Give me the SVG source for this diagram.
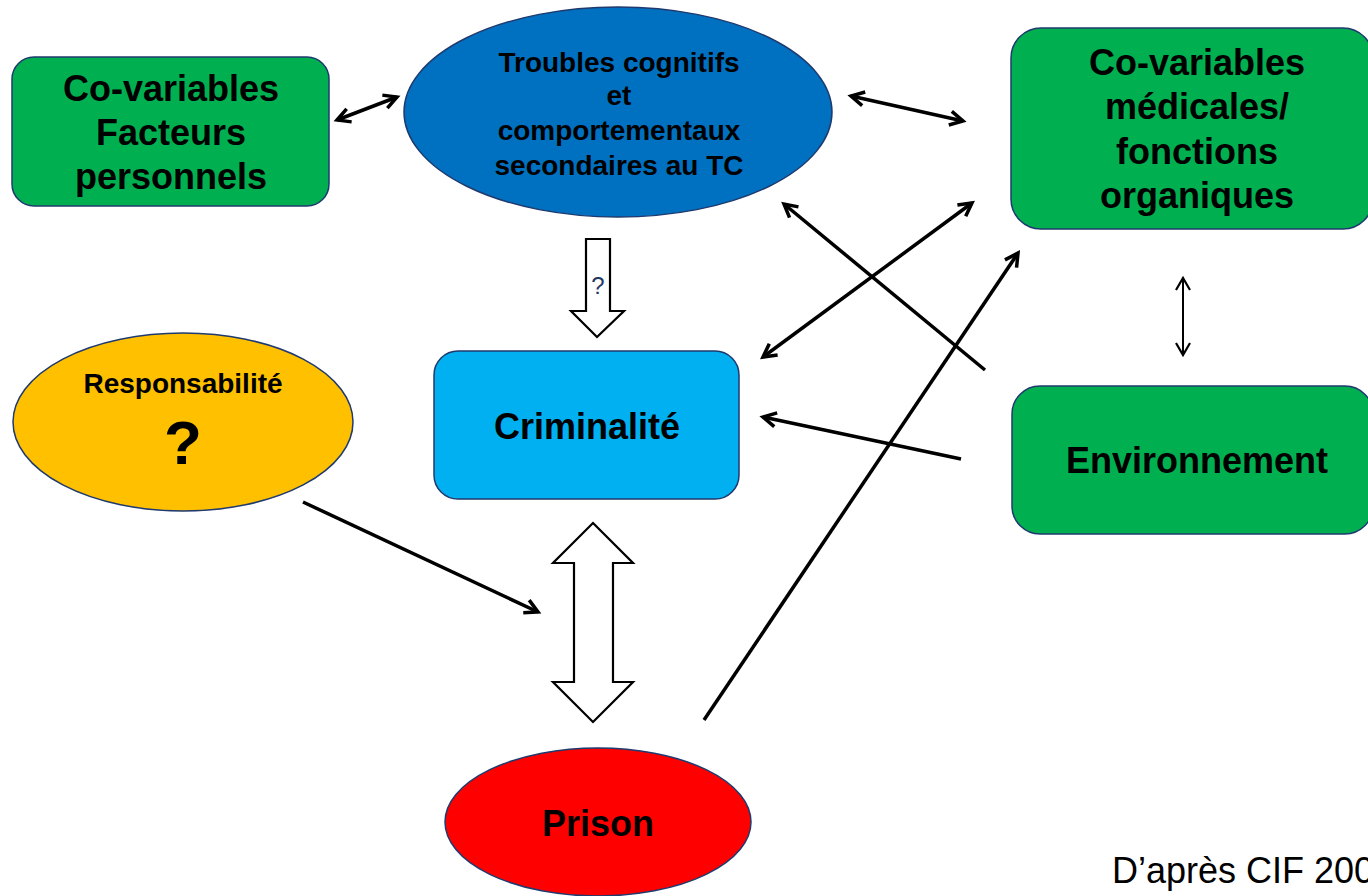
<svg xmlns="http://www.w3.org/2000/svg" width="1368" height="896" viewBox="0 0 1368 896">
<defs>
<style>
.t{font-family:"Liberation Sans",Arial,sans-serif;font-weight:bold;fill:#000;text-anchor:middle}
.shape{stroke:#1F3A6E;stroke-width:1.5}
.conn{stroke:#000;stroke-width:3.5;fill:none}
.thin{stroke:#000;stroke-width:2;fill:none}
.hollow{fill:#fff;stroke:#000;stroke-width:2.2;stroke-linejoin:miter}
</style>
<marker id="ah" viewBox="0 0 20 20" refX="16" refY="10" markerWidth="20" markerHeight="20" markerUnits="userSpaceOnUse" orient="auto-start-reverse">
<path d="M3,3 L16,10 L3,17" fill="none" stroke="#000" stroke-width="3.5" stroke-linejoin="miter"/>
</marker>
<marker id="ahs" viewBox="0 0 20 20" refX="16" refY="10" markerWidth="20" markerHeight="20" markerUnits="userSpaceOnUse" orient="auto-start-reverse">
<path d="M4,3 L16,10 L4,17" fill="none" stroke="#000" stroke-width="2.2"/>
</marker>
</defs>
<rect width="1368" height="896" fill="#fff"/>

<g id="connectors">
<line class="conn" x1="337" y1="120" x2="397" y2="97" marker-start="url(#ah)" marker-end="url(#ah)"/>
<line class="conn" x1="851" y1="96" x2="963" y2="121" marker-start="url(#ah)" marker-end="url(#ah)"/>
<line class="conn" x1="763" y1="357" x2="972" y2="203" marker-start="url(#ah)" marker-end="url(#ah)"/>
<line class="conn" x1="985" y1="370" x2="784" y2="204" marker-end="url(#ah)"/>
<line class="conn" x1="961" y1="459" x2="763" y2="417" marker-end="url(#ah)"/>
<line class="conn" x1="704" y1="720" x2="1018" y2="253" marker-end="url(#ah)"/>
<line class="conn" x1="303" y1="502" x2="538" y2="612" marker-end="url(#ah)"/>
<line class="thin" x1="1183" y1="278" x2="1183" y2="355" marker-start="url(#ahs)" marker-end="url(#ahs)"/>
<g id="arrow-question">
<path class="hollow" d="M586,239 L610,239 L610,311 L624,311 L597,337 L571,311 L586,311 Z"/>
<text x="598" y="294" font-family="Liberation Sans, Arial, sans-serif" font-size="24" fill="#1F3864" text-anchor="middle">?</text>
</g>
<path id="arrow-double" class="hollow" d="M593,523 L633,563 L613,563 L613,682 L633,682 L593,722 L553,682 L574,682 L574,563 L553,563 Z"/>
</g>

<g id="node-facteurs">
<rect class="shape" x="12" y="57" width="317" height="149" rx="22" fill="#00B050"/>
<text class="t" font-size="36" x="171" y="101">Co-variables</text>
<text class="t" font-size="36" x="171" y="145">Facteurs</text>
<text class="t" font-size="36" x="171" y="189">personnels</text>
</g>

<g id="node-troubles">
<ellipse class="shape" cx="618" cy="112" rx="214" ry="105" fill="#0070C0"/>
<text class="t" font-size="28" x="619" y="72">Troubles cognitifs</text>
<text class="t" font-size="28" x="619" y="105">et</text>
<text class="t" font-size="28" x="619" y="140">comportementaux</text>
<text class="t" font-size="28" x="619" y="175">secondaires au TC</text>
</g>

<g id="node-medicales">
<rect class="shape" x="1011" y="28" width="362" height="201" rx="30" fill="#00B050"/>
<text class="t" font-size="36" x="1197" y="75">Co-variables</text>
<text class="t" font-size="36" x="1197" y="119">médicales/</text>
<text class="t" font-size="36" x="1197" y="164">fonctions</text>
<text class="t" font-size="36" x="1197" y="208">organiques</text>
</g>

<g id="node-responsabilite">
<ellipse class="shape" cx="183" cy="422" rx="170" ry="89" fill="#FFC000"/>
<text class="t" font-size="28" x="183" y="393">Responsabilité</text>
<text class="t" font-size="62" x="183" y="464">?</text>
</g>

<g id="node-criminalite">
<rect class="shape" x="434" y="351" width="305" height="148" rx="24" fill="#00B0F0"/>
<text class="t" font-size="36" x="587" y="439">Criminalité</text>
</g>

<g id="node-environnement">
<rect class="shape" x="1012" y="386" width="361" height="148" rx="28" fill="#00B050"/>
<text class="t" font-size="36" x="1197" y="473">Environnement</text>
</g>

<g id="node-prison">
<ellipse class="shape" cx="598" cy="822" rx="153" ry="74" fill="#FF0000"/>
<text class="t" font-size="36" x="598" y="836">Prison</text>
</g>

<text x="1112" y="883" font-family="Liberation Sans, Arial, sans-serif" font-size="36" fill="#000">D’après CIF 200</text>
</svg>
